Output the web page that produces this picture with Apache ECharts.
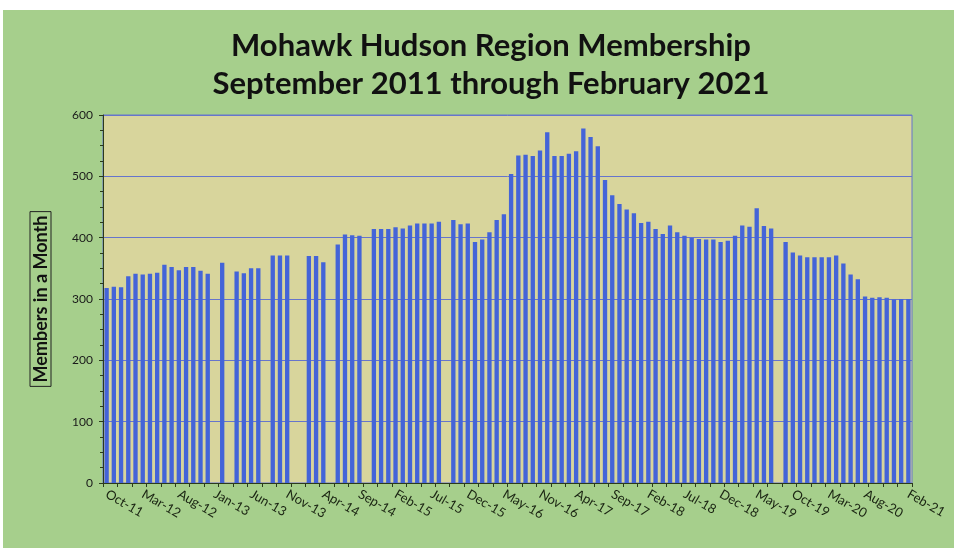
<!DOCTYPE html>
<html>
<head>
<meta charset="utf-8">
<script src="https://cdn.jsdelivr.net/npm/echarts@6/dist/echarts.min.js"></script>
<style>
html,body{margin:0;padding:0;background:#ffffff;}
#chart{width:959px;height:552px;}
</style>
</head>
<body>
<div id="chart"></div>
<script>
// Category months (one per bar slot)
const months = [
 'Oct-11','Nov-11','Dec-11','Jan-12','Feb-12','Mar-12','Apr-12','May-12','Jun-12','Jul-12',
 'Aug-12','Sep-12','Oct-12','Nov-12','Dec-12','Jan-13','Feb-13','Mar-13','Apr-13','May-13',
 'Jun-13','Jul-13','Aug-13','Sep-13','Oct-13','Nov-13','Dec-13','Jan-14','Feb-14','Mar-14',
 'Apr-14','May-14','Jun-14','Jul-14','Aug-14','Sep-14','Oct-14','Nov-14','Dec-14','Jan-15',
 'Feb-15','Mar-15','Apr-15','May-15','Jun-15','Jul-15','Aug-15','Sep-15','Oct-15','Nov-15',
 'Dec-15','Jan-16','Feb-16','Mar-16','Apr-16','May-16','Jun-16','Jul-16','Aug-16','Sep-16',
 'Nov-16','Dec-16','Jan-17','Feb-17','Mar-17','Apr-17','May-17','Jun-17','Jul-17','Aug-17',
 'Sep-17','Oct-17','Nov-17','Dec-17','Jan-18','Feb-18','Mar-18','Apr-18','May-18','Jun-18',
 'Jul-18','Aug-18','Sep-18','Oct-18','Nov-18','Dec-18','Jan-19','Feb-19','Mar-19','Apr-19',
 'May-19','Jun-19','Jul-19','Aug-19','Sep-19','Oct-19','Nov-19','Dec-19','Jan-20','Feb-20',
 'Mar-20','Apr-20','May-20','Jun-20','Jul-20','Aug-20','Sep-20','Oct-20','Nov-20','Dec-20',
 'Jan-21','Feb-21'
];

// Members in a month (null = no data)
const members = [
 318,320,319,337,341,340,341,343,356,352,
 347,352,352,346,341,null,359,null,345,342,
 350,350,null,371,371,371,null,null,370,370,
 360,null,389,405,404,403,null,414,414,414,
 417,415,420,423,423,423,426,null,429,422,
 423,393,397,409,429,438,504,534,535,533,
 542,572,533,533,537,541,578,564,549,494,
 469,455,446,440,424,426,414,406,420,409,
 403,400,398,397,397,393,395,403,420,418,
 448,419,415,null,393,376,371,368,368,368,
 368,371,358,340,332,304,302,303,302,299,
 300,300
];

// Tick labels shown on the category axis
const shownLabels = [
 'Oct-11','Mar-12','Aug-12','Jan-13','Jun-13','Nov-13','Apr-14','Sep-14','Feb-15','Jul-15',
 'Dec-15','May-16','Nov-16','Apr-17','Sep-17','Feb-18','Jul-18','Dec-18','May-19','Oct-19',
 'Mar-20','Aug-20','Feb-21'
];

const titleLines = ['Mohawk Hudson Region Membership', 'September 2011 through February 2021'];
const yAxisTitle = 'Members in a Month';

const chart = echarts.init(document.getElementById('chart'), null, {renderer: 'canvas'});
const FONT = 'Lato, "Open Sans", sans-serif';

chart.setOption({
  animation: false,
  backgroundColor: '#ffffff',
  graphic: [{
    type: 'rect', z: -10, silent: true,
    shape: {x: 3, y: 10, width: 951, height: 538},
    style: {fill: '#a6cf8c'}
  }],
  title: {
    text: titleLines.join('\n'),
    left: 486,
    textAlign: 'center',
    top: 22,
    textStyle: {
      fontFamily: FONT, fontWeight: 'bold', fontSize: 31,
      lineHeight: 38, color: '#111111'
    }
  },
  grid: {
    left: 103, right: 47, top: 115, bottom: 69,
    show: true, backgroundColor: '#d8d59c',
    borderColor: '#6675cc', borderWidth: 1,
    containLabel: false
  },
  xAxis: {
    type: 'category',
    data: months,
    boundaryGap: true,
    axisLine: {show: true, lineStyle: {color: '#2b3a1c', width: 1}},
    axisTick: {show: true, interval: 1, length: 4, lineStyle: {color: '#2b3a1c'}},
    axisLabel: {
      interval: function (idx, val) { return shownLabels.indexOf(val) >= 0; },
      rotate: -30,
      margin: 10,
      fontFamily: FONT, fontSize: 13, color: '#1a2412'
    },
    splitLine: {show: false}
  },
  yAxis: {
    type: 'value',
    min: 0, max: 600, interval: 100,
    name: yAxisTitle,
    nameLocation: 'middle',
    nameRotate: 90,
    nameGap: 52,
    nameTextStyle: {
      fontFamily: FONT, fontWeight: 'bold', fontSize: 18, color: '#111111',
      borderColor: '#222222', borderWidth: 1, padding: [2, 4, 1, 4]
    },
    axisLine: {show: true, lineStyle: {color: '#2b3a1c', width: 1}},
    axisTick: {show: true, length: 4, lineStyle: {color: '#2b3a1c'}},
    minorTick: {show: true, splitNumber: 4, length: 3, lineStyle: {color: '#2b3a1c'}},
    axisLabel: {fontFamily: FONT, fontSize: 12, color: '#1a1a1a', margin: 10},
    splitLine: {show: true, lineStyle: {color: '#6675cc', width: 1}}
  },
  series: [{
    type: 'bar',
    data: members,
    barCategoryGap: '40%',
    itemStyle: {color: '#4464d8'}
  }]
});
</script>
</body>
</html>
